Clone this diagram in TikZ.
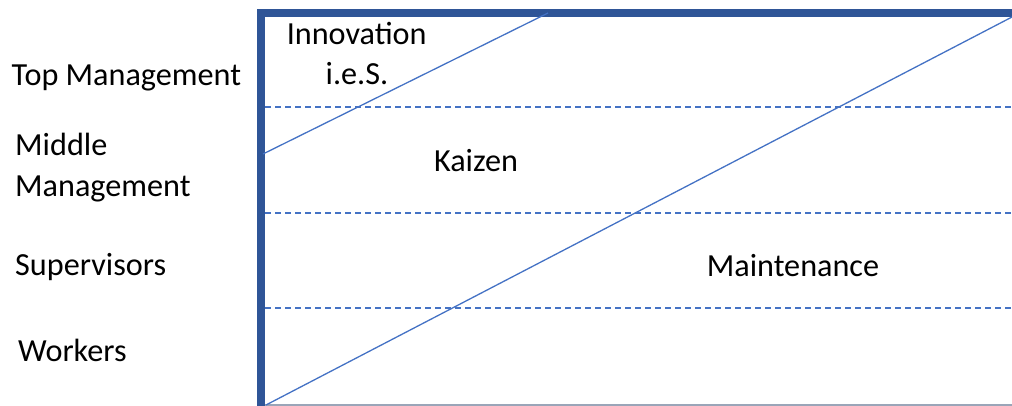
\documentclass[tikz,border=0pt]{standalone}
\usepackage{fontspec}
\setmainfont{Carlito}
\definecolor{frameblue}{HTML}{2F5597}
\definecolor{lineblue}{HTML}{4472C4}
\definecolor{basegray}{HTML}{9AA5B8}
\tikzset{
  lbl/.style={inner sep=0pt, font=\fontsize{32.2}{32.2}\selectfont, text=black},
  diag/.style={draw=lineblue, line width=1.3pt},
  level/.style={draw=lineblue, line width=1.2pt, dash pattern=on 6pt off 4pt},
}
\begin{document}
\begin{tikzpicture}[x=1pt,y=-1pt]
\useasboundingbox (0,0) rectangle (1012,406);
% frame
\fill[frameblue] (257,9) rectangle (1012,17);
\fill[frameblue] (257,9) rectangle (265,406);
\draw[basegray, line width=2pt] (265,404.5) -- (1012,404.5);
% level lines
\coordinate (l1a) at (265,107); \coordinate (l1b) at (1012,107);
\coordinate (l2a) at (265,213); \coordinate (l2b) at (1012,213);
\coordinate (l3a) at (265,308); \coordinate (l3b) at (1012,308);
\draw[level] (l1a) -- (l1b);
\draw[level] (l2a) -- (l2b);
\draw[level] (l3a) -- (l3b);
% diagonals
\coordinate (d1a) at (263,154); \coordinate (d1b) at (548,13);
\coordinate (d2a) at (266,405); \coordinate (d2b) at (1012,17);
\draw[diag] (d1a) -- (d1b);
\draw[diag] (d2a) -- (d2b);
% left labels
\node[lbl, anchor=base west] (top) at (11.5,85.7) {Top Management};
\node[lbl, anchor=base west] (mid1) at (15,156) {Middle};
\node[lbl, anchor=base west] (mid2) at (15,196.7) {Management};
\node[lbl, anchor=base west] (sup) at (15,275) {Supervisors};
\node[lbl, anchor=base west] (work) at (18,361.7) {Workers};
% area labels
\node[lbl, anchor=base] (inno) at (356.7,45) {Innovation};
\node[lbl, anchor=base] (ies) at (357,85) {i.e.S.};
\node[lbl, anchor=base] (kai) at (476,171.7) {Kaizen};
\node[lbl, anchor=base] (mai) at (793,276.7) {Maintenance};
\end{tikzpicture}
\end{document}
